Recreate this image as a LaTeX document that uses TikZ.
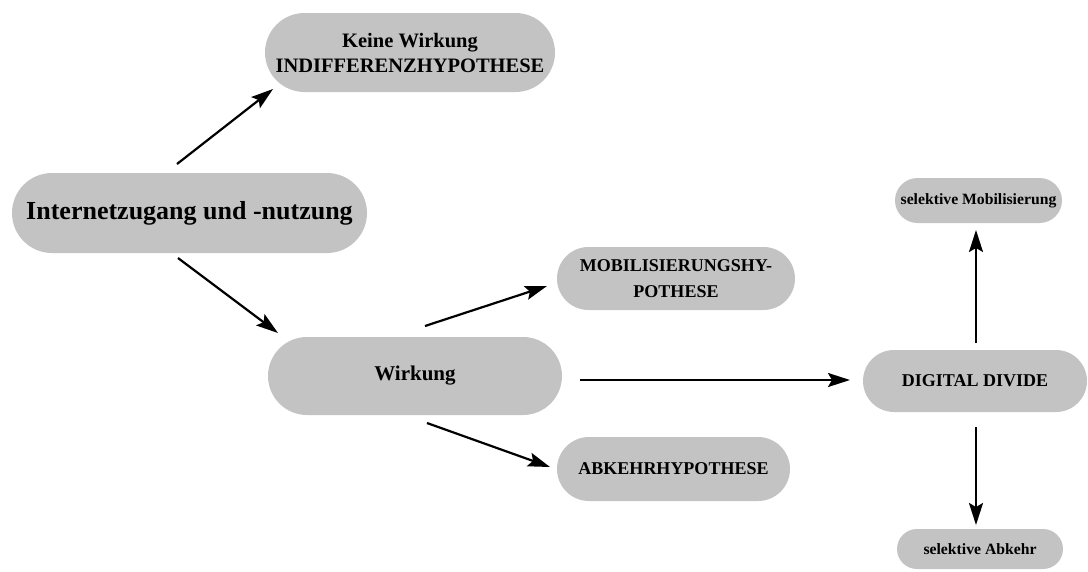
\documentclass[tikz,border=0pt]{standalone}
\usepackage{fontspec}
\setmainfont{Liberation Serif}
\usetikzlibrary{shapes.misc,arrows.meta}
\definecolor{boxgray}{RGB}{195,195,195}
\tikzset{
  pill/.style={rounded rectangle, fill=boxgray, draw=none, inner sep=0pt, align=center, font=\bfseries},
  arr/.style={line width=2.2pt, -{Stealth[length=22pt,width=14pt,inset=4pt]}}
}
\begin{document}
\begin{tikzpicture}[x=1pt,y=-1pt]
\useasboundingbox (0,0) rectangle (1088,571);
\node[pill, minimum width=290pt, minimum height=79pt, font=\bfseries\fontsize{20.5}{25}\selectfont] (kw) at (410,52.5) {Keine Wirkung\\INDIFFERENZHYPOTHESE};
\node[pill, minimum width=355pt, minimum height=80pt, font=\bfseries\fontsize{26}{30}\selectfont] (inet) at (189.5,213) {Internetzugang und -nutzung};
\node[pill, minimum width=294pt, minimum height=78pt, font=\bfseries\fontsize{21}{25}\selectfont] (wirk) at (415,376) {Wirkung};
\node[pill, minimum width=238pt, minimum height=63pt, font=\bfseries\fontsize{18}{26}\selectfont] (mob) at (676,278.5) {MOBILISIERUNGSHY-\\POTHESE};
\node[pill, minimum width=233pt, minimum height=64pt, font=\bfseries\fontsize{18}{22}\selectfont] (abk) at (673.5,469) {ABKEHRHYPOTHESE};
\node[pill, minimum width=224pt, minimum height=62pt, font=\bfseries\fontsize{18}{22}\selectfont] (dd) at (975,381) {DIGITAL DIVIDE};
\node[pill, minimum width=167pt, minimum height=45pt, font=\bfseries\fontsize{15.7}{19}\selectfont] (smob) at (978.5,200.5) {selektive Mobilisierung};
\node[pill, minimum width=166pt, minimum height=40pt, font=\bfseries\fontsize{15.7}{19}\selectfont] (sab) at (980,549) {selektive Abkehr};

\draw[arr] ([xshift=-12.5pt,yshift=49pt]inet.center) -- ([xshift=-137pt,yshift=-36.5pt]kw.center);
\draw[arr] ([xshift=-11.5pt,yshift=-45pt]inet.center) -- ([xshift=-137pt,yshift=43pt]wirk.center);
\draw[arr] ([xshift=10pt,yshift=50pt]wirk.center) -- ([xshift=-129pt,yshift=-7.5pt]mob.center);
\draw[arr] ([xshift=12pt,yshift=-47pt]wirk.center) -- ([xshift=-123.5pt,yshift=2pt]abk.center);
\draw[arr] ([xshift=165pt,yshift=-4pt]wirk.center) -- ([xshift=-125pt,yshift=1pt]dd.center);
\draw[arr] ([xshift=1pt,yshift=38pt]dd.center) -- ([xshift=-2.5pt,yshift=-29.5pt]smob.center);
\draw[arr] ([xshift=1pt,yshift=-46pt]dd.center) -- ([xshift=-4pt,yshift=24pt]sab.center);
\end{tikzpicture}
\end{document}
